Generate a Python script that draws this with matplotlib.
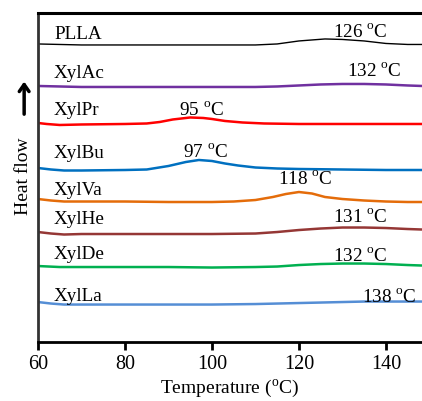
import matplotlib
matplotlib.use("Agg")
import matplotlib.pyplot as plt

plt.rcParams['font.family'] = ['Liberation Serif', 'DejaVu Serif']
plt.rcParams['mathtext.fontset'] = 'custom'
plt.rcParams['mathtext.rm'] = 'Liberation Serif'

# DSC curves (temperature in °C, heat flow in arbitrary stacked units)
temp_plla = [60, 70, 80, 90, 100, 105, 110, 115, 120, 126, 130, 135, 140, 145, 148.3]
hf_plla = [298, 297, 297, 297, 297, 297, 297, 298, 301, 303, 302.5, 301, 298.5, 297.5, 297.5]

temp_ac = [60, 70, 80, 90, 100, 110, 115, 120, 125, 130, 135, 140, 145, 148.3]
hf_ac = [256, 255, 255, 255, 255, 255, 255.5, 256.5, 257.5, 258, 258, 257.5, 256.5, 256]

temp_pr = [60, 62, 65, 70, 80, 85, 88, 91, 95, 98, 100, 103, 107, 112, 120, 130, 140, 148.3]
hf_pr = [219, 218, 217, 217.5, 218, 218.5, 220, 222.5, 224.5, 224, 223, 221, 219.5, 218.5, 218, 218, 218, 218]

temp_bu = [60, 63, 66, 70, 80, 85, 90, 94, 97, 100, 103, 106, 110, 115, 120, 130, 140, 148.3]
hf_bu = [174, 172.5, 171.5, 171.5, 172, 172.5, 176, 180, 182, 181, 178.5, 176.5, 174.5, 173.5, 173, 172.5, 172, 172]

temp_va = [60, 63, 66, 70, 80, 90, 100, 105, 110, 114, 117, 120, 123, 126, 130, 135, 140, 145, 148.3]
hf_va = [143, 141.5, 140.5, 140.5, 140.5, 140, 140, 140.5, 142, 145, 148, 150, 148.5, 145, 143, 141.5, 140.5, 140, 140]

temp_he = [60, 63, 66, 70, 80, 90, 100, 110, 115, 120, 125, 130, 135, 140, 145, 148.3]
hf_he = [110, 108.5, 107.5, 108, 108, 108, 108, 108.5, 110, 112, 113.5, 114.5, 114.5, 114, 113, 112.5]

temp_de = [60, 65, 70, 80, 90, 100, 110, 115, 120, 125, 130, 135, 140, 145, 148.3]
hf_de = [76, 75, 75, 75, 75, 74.5, 75, 75.5, 77, 78, 78.5, 78.5, 78, 77, 76.5]

temp_la = [60, 63, 66, 70, 80, 90, 100, 110, 120, 125, 130, 135, 140, 145, 148.3]
hf_la = [40, 38.5, 37.5, 37.5, 37.5, 37.5, 37.5, 38, 39, 39.5, 40, 40.5, 40.5, 40.5, 40.5]

names = ['PLLA', 'XylAc', 'XylPr', 'XylBu', 'XylVa', 'XylHe', 'XylDe', 'XylLa']
colors = ['black', '#7030A0', '#FF0000', '#0070C0', '#E46C0A', '#953735', '#00B050', '#558ED5']
temps = [temp_plla, temp_ac, temp_pr, temp_bu, temp_va, temp_he, temp_de, temp_la]
flows = [hf_plla, hf_ac, hf_pr, hf_bu, hf_va, hf_he, hf_de, hf_la]
widths = [1.0, 1.8, 1.8, 1.8, 1.8, 1.8, 1.8, 1.8]

# name label baselines and peak annotations
name_y = [303, 264, 227, 184, 147, 118, 83, 41]
peak_text = ['126', '132', '95', '97', '118', '131', '132', '138']
peak_x = [127.8, 131, 92.4, 93.3, 115.2, 127.8, 127.8, 134.5]
peak_y = [305, 266, 227, 185, 158, 120, 81, 40]

fig = plt.figure(figsize=(4.22, 4.01), dpi=100)
ax = fig.add_axes([0.090, 0.147, 0.910, 0.8207])

for t, h, c, w in zip(temps, flows, colors, widths):
    ax.plot(t, h, color=c, lw=w, solid_capstyle='butt', solid_joinstyle='round')

for n, y in zip(names, name_y):
    ax.text(63.7, y, n, fontsize=13.8, va='baseline', ha='left')

for p, x, y in zip(peak_text, peak_x, peak_y):
    ax.text(x, y, p + r' $^{\mathrm{o}}$C', fontsize=13.8, va='baseline', ha='left')

ax.set_xlim(60, 148.3)
ax.set_ylim(0, 329)
ax.set_xticks([60, 80, 100, 120, 140])
ax.set_yticks([])
ax.tick_params(axis='x', direction='out', length=6, width=2, labelsize=14.5, pad=3)
ax.set_xlabel('Temperature ($^{\\mathrm{o}}$C)', fontsize=14, labelpad=3)

ax.spines['right'].set_visible(False)
ax.spines['top'].set_linewidth(2.2)
ax.spines['bottom'].set_linewidth(2.0)
ax.spines['left'].set_linewidth(2.0)
ax.spines['left'].set_color('#333333')

ax.text(-0.039, 0.505, 'Heat flow', transform=ax.transAxes, rotation=90,
        fontsize=14, ha='center', va='center')
ax.annotate('', xy=(-0.036, 0.80), xytext=(-0.036, 0.684), xycoords='axes fraction',
            textcoords='axes fraction',
            arrowprops=dict(arrowstyle='->,head_length=0.5,head_width=0.35', lw=2.5, color='black'),
            annotation_clip=False)

fig.savefig('out.png', dpi=100)
